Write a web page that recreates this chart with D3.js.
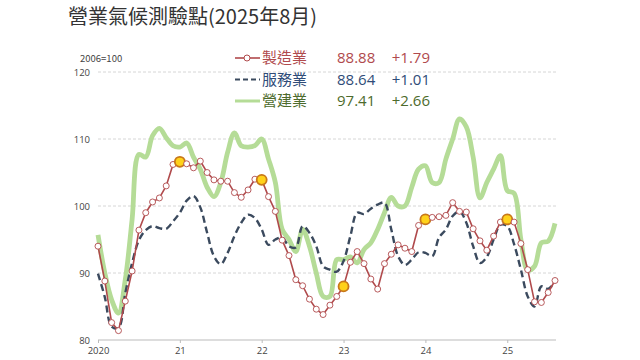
<!DOCTYPE html>
<html>
<head>
<meta charset="utf-8">
<script src="https://cdn.jsdelivr.net/npm/d3@7"></script>
<style>
  body { margin: 0; background: #fff; }
  svg { display: block; font-family: "Noto Sans CJK TC", "Noto Sans", sans-serif; }
</style>
</head>
<body>
<svg id="chart" width="640" height="360"></svg>
<script>
"use strict";

// monthly, 2020-01 .. 2025-08
var startYear = 2020;
var yearLabels = ["2020", "21", "22", "23", "24", "25"];
var yTicks = [80, 90, 100, 110, 120];

var manufacturing = [
	94.0, 88.8, 82.6, 81.4, 85.8, 90.3, 96.4, 99.0, 100.6, 101.2, 103.0, 106.2,
	106.6, 106.3, 105.7, 106.7, 105.0, 103.9, 103.7, 103.7, 102.0, 101.3, 102.4, 104.0,
	103.9, 101.4, 99.2, 94.9, 92.6, 89.0, 88.1, 86.1, 84.6, 83.8, 85.2, 86.5,
	88.0, 91.6, 93.2, 91.4, 89.1, 87.6, 91.4, 92.8, 94.2, 93.7, 93.2, 97.1,
	98.0, 98.3, 98.4, 98.6, 100.5, 99.2, 99.1, 96.6, 94.8, 93.4, 95.5, 97.6,
	98.0, 97.6, 94.4, 90.5, 85.7, 85.6, 87.09, 88.88
];
var services = [
	89.9, 86.4, 82.0, 81.8, 87.0, 91.5, 94.9, 96.4, 97.0, 96.7, 96.6, 97.7,
	99.0, 100.8, 101.5, 99.8, 96.0, 92.5, 91.3, 93.0, 95.5, 97.5, 98.7, 98.2,
	96.5, 94.2, 95.0, 95.3, 94.0, 93.8, 97.0, 96.0, 94.0, 91.0, 90.5, 90.2,
	91.8, 95.5, 99.0, 98.8, 99.6, 100.2, 100.5, 96.5, 92.5, 91.2, 92.0, 93.1,
	93.0, 92.5, 95.3, 96.5, 98.5, 99.2, 97.5, 94.0, 91.5, 92.4, 95.0, 97.2,
	97.0, 94.3, 90.5, 86.5, 85.0, 88.0, 87.63, 88.64
];
var construction = [
	95.7, 90.0, 86.0, 84.0, 89.0, 98.0, 107.7, 107.3, 110.5, 111.6, 110.2, 109.0,
	108.8, 109.4, 107.3, 105.5, 102.8, 101.4, 103.5, 108.0, 110.9, 109.0, 108.8, 109.0,
	110.0, 107.0, 103.5, 96.5, 95.0, 93.2, 96.5, 94.0, 90.0, 86.5, 86.5, 92.0,
	92.0, 92.4, 91.5, 93.5, 94.5, 96.5, 99.0, 101.3, 100.0, 100.0, 102.8, 105.5,
	106.0, 103.5, 103.5, 107.0, 110.0, 113.0, 111.8, 107.3, 101.2, 103.5, 105.5, 107.5,
	102.3, 101.9, 95.0, 90.4, 91.0, 94.5, 94.75, 97.41
];

var legendNames = ["製造業", "服務業", "營建業"];
var legendValues = ["88.88", "88.64", "97.41"];
var legendChanges = ["+1.79", "+1.01", "+2.66"];

var svg = d3.select("#chart");
var n = manufacturing.length;

var x = d3.scaleLinear().domain([0, n - 1]).range([98, 555]);
var y = d3.scaleLinear().domain([80, 120]).range([340, 72]);

// title
svg.append("text")
	.attr("x", 68).attr("y", 24)
	.attr("font-size", 20)
	.attr("fill", "#333")
	.text("營業氣候測驗點(2025年8月)");

svg.append("text")
	.attr("x", 80).attr("y", 62)
	.attr("font-size", 9.5)
	.attr("fill", "#444")
	.text("2006=100");

// grid
svg.append("g")
	.selectAll("line")
	.data(yTicks.filter(function(d) { return d > 80; }))
	.enter().append("line")
		.attr("x1", 98).attr("x2", 556)
		.attr("y1", function(d) { return y(d); })
		.attr("y2", function(d) { return y(d); })
		.attr("stroke", "#ccc")
		.attr("stroke-dasharray", "3,2")
		.attr("stroke-width", 0.8);

// y axis labels
var yAxis = d3.axisLeft(y).tickValues(yTicks).tickSize(0).tickPadding(8);
var gy = svg.append("g").attr("transform", "translate(98,0)").call(yAxis);
gy.select(".domain").remove();
gy.selectAll("text").attr("font-size", 9.5).attr("fill", "#444")
	.attr("font-family", "'Open Sans', sans-serif");

// x axis
var yearIdx = d3.range(yearLabels.length).map(function(i) { return i * 12; });
var xAxis = d3.axisBottom(x).tickValues(yearIdx)
	.tickFormat(function(d, i) { return yearLabels[i]; })
	.tickSize(3).tickPadding(4);
var gx = svg.append("g").attr("transform", "translate(0,340)").call(xAxis);
gx.select(".domain").attr("stroke", "#bbb").attr("d", "M98,0H556");
gx.selectAll("line").attr("stroke", "#bbb");
gx.selectAll("text").attr("font-size", 9.5).attr("fill", "#444")
	.attr("font-family", "'Open Sans', sans-serif");

// lines
var idx = d3.range(n);
var smooth = d3.line()
	.x(function(i) { return x(i); })
	.curve(d3.curveCatmullRom.alpha(0.5));

svg.append("path")
	.attr("d", smooth.y(function(i) { return y(construction[i]); })(idx))
	.attr("fill", "none")
	.attr("stroke", "#b5dc97")
	.attr("stroke-width", 4.8)
	.attr("stroke-linejoin", "round");

svg.append("path")
	.attr("d", smooth.y(function(i) { return y(services[i]); })(idx))
	.attr("fill", "none")
	.attr("stroke", "#3b4a5e")
	.attr("stroke-width", 2.4)
	.attr("stroke-dasharray", "7,4");

var straight = d3.line()
	.x(function(i) { return x(i); })
	.y(function(i) { return y(manufacturing[i]); });

svg.append("path")
	.attr("d", straight(idx))
	.attr("fill", "none")
	.attr("stroke", "#b04a4c")
	.attr("stroke-width", 1.6);

svg.append("g")
	.selectAll("circle")
	.data(idx)
	.enter().append("circle")
		.attr("cx", function(i) { return x(i); })
		.attr("cy", function(i) { return y(manufacturing[i]); })
		.attr("r", function(i) { return (i % 12 === 0 && i > 0) ? 5 : 3; })
		.attr("fill", function(i) { return (i % 12 === 0 && i > 0) ? "#ffd21a" : "#fff"; })
		.attr("stroke", function(i) { return (i % 12 === 0 && i > 0) ? "#c8781a" : "#b04a4c"; })
		.attr("stroke-width", function(i) { return (i % 12 === 0 && i > 0) ? 1.8 : 0.9; });

// legend
var legendColors = ["#b04a4d", "#2f4c78", "#4d6b2c"];
var legend = svg.append("g");
var rows = legend.selectAll("g")
	.data(legendNames)
	.enter().append("g")
		.attr("transform", function(d, i) { return "translate(0," + (58 + i * 21.5) + ")"; });

rows.append("line")
	.attr("x1", 235).attr("x2", 260)
	.attr("y1", 0).attr("y2", 0)
	.attr("stroke", function(d, i) { return ["#b04a4c", "#3b4a5e", "#b5dc97"][i]; })
	.attr("stroke-width", function(d, i) { return [1.6, 2.2, 3][i]; })
	.attr("stroke-dasharray", function(d, i) { return i === 1 ? "5,3" : null; });
rows.filter(function(d, i) { return i === 0; }).append("circle")
	.attr("cx", 247).attr("cy", 0).attr("r", 3)
	.attr("fill", "#fff").attr("stroke", "#b04a4c");

rows.append("text")
	.attr("x", 262).attr("y", 5)
	.attr("font-size", 15)
	.attr("fill", function(d, i) { return legendColors[i]; })
	.text(function(d) { return d; });
rows.append("text")
	.attr("x", 337).attr("y", 5)
	.attr("font-size", 15)
	.attr("font-family", "'Open Sans', sans-serif")
	.attr("fill", function(d, i) { return legendColors[i]; })
	.text(function(d, i) { return legendValues[i]; });
rows.append("text")
	.attr("x", 430).attr("y", 5)
	.attr("text-anchor", "end")
	.attr("font-size", 15)
	.attr("font-family", "'Open Sans', sans-serif")
	.attr("fill", function(d, i) { return legendColors[i]; })
	.text(function(d, i) { return legendChanges[i]; });
</script>
</body>
</html>
